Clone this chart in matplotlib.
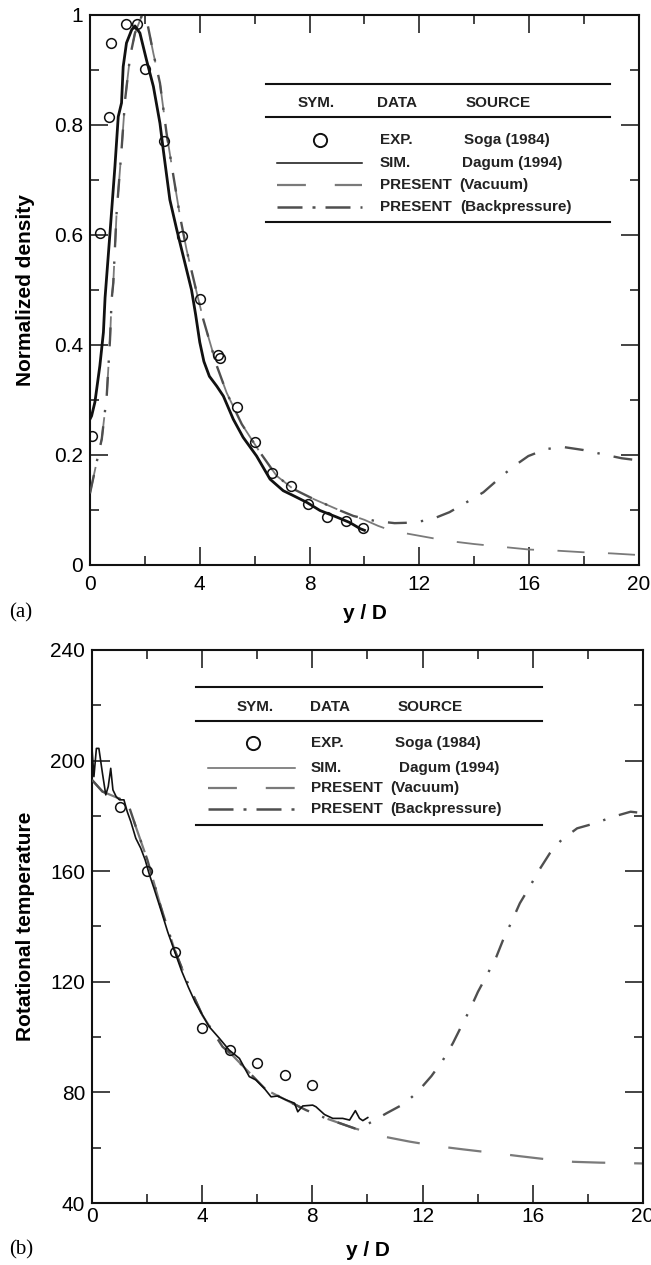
import matplotlib.pyplot as plt
from matplotlib.ticker import MultipleLocator

plt.rcParams['font.family'] = ['Liberation Sans', 'DejaVu Sans']

# ---- (a) normalized density ----
exp_x_a = [0.08, 0.36, 0.69, 0.75, 1.31, 1.72, 2.0, 2.7, 3.36, 4.0, 4.68, 4.72,
           5.34, 6.01, 6.64, 7.31, 7.95, 8.62, 9.33, 9.96]
exp_y_a = [0.234, 0.604, 0.814, 0.949, 0.984, 0.984, 0.902, 0.770, 0.598, 0.483,
           0.382, 0.376, 0.287, 0.224, 0.168, 0.143, 0.111, 0.088, 0.080, 0.067]

sim_x_a = [0.0, 0.06, 0.18, 0.36, 0.49, 0.55, 0.73, 0.91, 1.03, 1.15, 1.21, 1.33,
           1.52, 1.64, 1.82, 2.06, 2.31, 2.55, 2.67, 2.91, 3.16, 3.40, 3.70, 3.85,
           4.0, 4.15, 4.35, 4.62, 4.86, 5.22, 5.58, 6.07, 6.56, 7.04, 7.41, 7.89,
           8.38, 8.99, 9.47, 9.84, 10.0]
sim_y_a = [0.265, 0.271, 0.296, 0.362, 0.423, 0.486, 0.604, 0.725, 0.815, 0.840,
           0.906, 0.949, 0.973, 0.980, 0.967, 0.918, 0.870, 0.803, 0.755, 0.664,
           0.610, 0.561, 0.500, 0.455, 0.405, 0.370, 0.343, 0.325, 0.307, 0.265,
           0.232, 0.198, 0.156, 0.135, 0.126, 0.114, 0.099, 0.087, 0.077, 0.066,
           0.063]

vac_x_a = [0.0, 0.24, 0.43, 0.61, 0.73, 0.79, 0.85, 0.97, 1.15, 1.28, 1.46, 1.64,
           1.9, 2.09, 2.31, 2.55, 2.79, 3.04, 3.28, 3.52, 3.89, 4.13, 4.62, 4.98,
           5.53, 6.19, 6.80, 7.41, 8.14, 9.11, 9.6, 10.0, 10.5, 11.0, 12.0, 13.0,
           14.0, 15.0, 16.0, 17.0, 18.0, 19.0, 20.0]
vac_y_a = [0.130, 0.186, 0.229, 0.307, 0.410, 0.483, 0.513, 0.640, 0.755, 0.846,
           0.924, 0.967, 1.0, 0.985, 0.930, 0.876, 0.785, 0.707, 0.634, 0.573,
           0.495, 0.446, 0.362, 0.313, 0.256, 0.205, 0.162, 0.138, 0.120, 0.099,
           0.089, 0.082, 0.071, 0.062, 0.053, 0.044, 0.038, 0.033, 0.028, 0.026,
           0.023, 0.021, 0.018]

# backpressure run coincides with the vacuum run up to y/D ~ 9.6
bp_x_a = vac_x_a[:31] + [10.38, 11.1, 11.77, 12.45, 13.1, 13.72, 14.33, 14.88,
                         15.37, 15.97, 16.64, 17.3, 17.97, 18.7, 19.37, 20.0]
bp_y_a = vac_y_a[:31] + [0.080, 0.076, 0.077, 0.083, 0.096, 0.114, 0.132, 0.156,
                         0.177, 0.198, 0.211, 0.214, 0.209, 0.201, 0.194, 0.190]

# ---- (b) rotational temperature ----
exp_x_b = [1, 2, 3, 4, 5, 6, 7, 8]
exp_y_b = [183.1, 160.2, 130.8, 103.3, 95.3, 90.5, 86.3, 82.7]

sim_x_b = [0.0, 0.07, 0.16, 0.25, 0.38, 0.50, 0.59, 0.68, 0.76, 0.88, 1.0, 1.16,
           1.28, 1.41, 1.59, 1.77, 1.93, 2.07, 2.25, 2.5, 2.75, 3.0, 3.25, 3.5,
           3.75, 3.89, 4.25, 4.62, 4.98, 5.35, 5.71, 5.95, 6.25, 6.5, 6.74, 7.04,
           7.35, 7.47, 7.65, 8.01, 8.13, 8.44, 8.74, 9.1, 9.35, 9.56, 9.71, 9.83,
           10.01]
sim_y_b = [204.4, 194.2, 204.4, 204.4, 195.4, 187.6, 190.6, 197.2, 189.4, 186.9,
           185.8, 185.8, 181.5, 177.9, 171.9, 168.3, 164.1, 159.2, 153.8, 146.0,
           138.0, 131.0, 124.0, 118.0, 112.5, 110.1, 103.8, 99.6, 95.3, 92.3,
           85.7, 84.5, 81.5, 78.4, 78.7, 77.3, 76.1, 73.0, 75.1, 75.4, 74.8, 72.0,
           70.6, 70.6, 70.0, 73.4, 70.6, 69.8, 70.9]

vac_x_b = [0.0, 0.38, 1.1, 1.3, 1.59, 2.01, 2.5, 3.0, 3.5, 4.0, 4.74, 5.09, 6.32,
           7.77, 8.5, 9.53, 10.5, 11.53, 12.5, 13.47, 14.5, 15.47, 16.5, 17.47,
           18.44, 20.0]
vac_y_b = [193.0, 188.8, 185.8, 184.7, 176.1, 164.1, 147.0, 131.5, 119.0, 108.0,
           96.5, 93.5, 80.9, 73.6, 70.6, 67.0, 64.2, 62.2, 60.6, 59.4, 58.2, 57.0,
           55.8, 54.9, 54.6, 54.3]

bp_x_b = vac_x_b[:16] + [10.0, 10.68, 11.35, 11.83, 12.32, 12.74, 13.1, 13.4,
                         13.71, 14.01, 14.34, 14.68, 14.92, 15.23, 15.53, 15.89,
                         16.23, 16.62, 17.04, 17.61, 18.25, 18.92, 19.55, 20.0]
bp_y_b = vac_y_b[:16] + [68.5, 72.4, 76.0, 80.3, 85.9, 91.7, 97.8, 103.8, 109.8,
                         116.4, 122.5, 129.1, 135.1, 141.7, 148.4, 154.4, 160.4,
                         166.5, 171.3, 175.5, 177.3, 179.7, 181.5, 181.0]

BLACK = '#111111'
VAC_C = '#7a7a7a'
BP_C = '#4f4f4f'
VAC_LS = (0, (15, 13))
BP_LS = (0, (8, 6, 1, 6))

fig = plt.figure(figsize=(6.51, 12.65), dpi=100)
ax1 = fig.add_axes([0.1382, 0.5534, 0.8433, 0.4348])
ax2 = fig.add_axes([0.1413, 0.0490, 0.8464, 0.4372])


def style_axes(ax):
    for s in ax.spines.values():
        s.set_linewidth(1.5)
        s.set_color(BLACK)
    ax.xaxis.set_major_locator(MultipleLocator(4))
    ax.xaxis.set_minor_locator(MultipleLocator(2))
    ax.tick_params(which='both', direction='in', top=True, right=True,
                   width=1.1, color=BLACK, labelsize=15)
    ax.tick_params(which='major', length=13)
    ax.tick_params(which='minor', length=6.5)
    ax.tick_params(axis='x', pad=7)
    ax.tick_params(axis='y', pad=5)


def key_table(ax, left, right, rules, head_y, head_x, row_y, sym_x, line_x,
              col2_x, col3_x, sim_color):
    kw = dict(transform=ax.transAxes, clip_on=False)
    for yy in rules:
        ax.plot([left, right], [yy, yy], color=BLACK, lw=1.5, **kw)
    tk = dict(transform=ax.transAxes, fontsize=11, fontweight='bold', va='center',
              color='#222222')
    ax.text(head_x[0], head_y, 'SYM.', ha='center', **tk)
    ax.text(head_x[1], head_y, 'DATA', ha='left', **tk)
    ax.text(head_x[2], head_y, 'SOURCE', ha='left', **tk)
    ax.plot([sym_x], [row_y[0]], 'o', ms=9.5, mfc='none', mec=BLACK, mew=1.4, **kw)
    ax.plot(line_x, [row_y[1]] * 2, color=sim_color, lw=1.1, **kw)
    ax.plot(line_x, [row_y[2]] * 2, color=VAC_C, lw=1.6, ls=(0, (13, 13)), **kw)
    ax.plot(line_x, [row_y[3]] * 2, color=BP_C, lw=1.8, ls=(0, (10, 4, 1.2, 4)), **kw)
    col2 = ['EXP.', 'SIM.', 'PRESENT', 'PRESENT']
    col3 = ['Soga (1984)', 'Dagum (1994)', '(Vacuum)', '(Backpressure)']
    for i in range(4):
        ax.text(col2_x, row_y[i], col2[i], ha='left', **tk)
        ax.text(col3_x[i], row_y[i], col3[i], ha='left', **tk)


# panel (a)
ax1.plot(vac_x_a, vac_y_a, color=VAC_C, lw=1.3, ls=VAC_LS, zorder=2)
ax1.plot(bp_x_a, bp_y_a, color=BP_C, lw=1.7, ls=BP_LS, zorder=3)
ax1.plot(sim_x_a, sim_y_a, color=BLACK, lw=2.0, zorder=4)
ax1.plot(exp_x_a, exp_y_a, 'o', ms=7, mfc='none', mec=BLACK, mew=1.1, zorder=5)
ax1.set_xlim(0, 20)
ax1.set_ylim(0, 1)
style_axes(ax1)
ax1.yaxis.set_major_locator(MultipleLocator(0.2))
ax1.yaxis.set_minor_locator(MultipleLocator(0.1))
ax1.set_yticks([0, 0.2, 0.4, 0.6, 0.8, 1.0])
ax1.set_yticklabels(['0', '0.2', '0.4', '0.6', '0.8', '1'])
ax1.set_xlabel('y / D', fontsize=15, fontweight='bold', va='center')
ax1.xaxis.set_label_coords(0.5, -0.089)
ax1.set_ylabel('Normalized density', fontsize=15, fontweight='bold', va='center')
ax1.yaxis.set_label_coords(-0.118, 0.5)
key_table(ax1, 0.3206, 0.947, [0.8745, 0.8145, 0.6236], 0.84,
          [0.4117, 0.5228, 0.6849], [0.7727, 0.7309, 0.6909, 0.6509], 0.419,
          [0.3406, 0.4954], 0.5282, [0.6812, 0.6776, 0.6721, 0.674], BLACK)

# panel (b)
ax2.plot(vac_x_b, vac_y_b, color=VAC_C, lw=1.6, ls=VAC_LS, zorder=2)
ax2.plot(bp_x_b, bp_y_b, color=BP_C, lw=1.7, ls=BP_LS, zorder=3)
ax2.plot(sim_x_b, sim_y_b, color=BLACK, lw=1.2, zorder=4)
ax2.plot(exp_x_b, exp_y_b, 'o', ms=7, mfc='none', mec=BLACK, mew=1.1, zorder=5)
ax2.set_xlim(0, 20)
ax2.set_ylim(40, 240)
style_axes(ax2)
ax2.yaxis.set_major_locator(MultipleLocator(40))
ax2.yaxis.set_minor_locator(MultipleLocator(20))
ax2.tick_params(axis='x', pad=3)
ax2.set_xlabel('y / D', fontsize=15, fontweight='bold', va='center')
ax2.xaxis.set_label_coords(0.5, -0.085)
ax2.set_ylabel('Rotational temperature', fontsize=15, fontweight='bold', va='center')
ax2.yaxis.set_label_coords(-0.121, 0.5)
key_table(ax2, 0.1887, 0.8167, [0.9331, 0.8716, 0.6835], 0.8969,
          [0.2958, 0.3956, 0.5554], [0.8318, 0.7866, 0.7505, 0.7125], 0.2922,
          [0.2105, 0.3684], 0.3975, [0.5499, 0.5572, 0.5408, 0.5408], '#666666')

fig.text(0.032, 0.5154, '(a)', family='Liberation Serif', fontsize=15,
         ha='center', va='center')
fig.text(0.032, 0.0119, '(b)', family='Liberation Serif', fontsize=15,
         ha='center', va='center')

fig.savefig('out.png', dpi=100)
